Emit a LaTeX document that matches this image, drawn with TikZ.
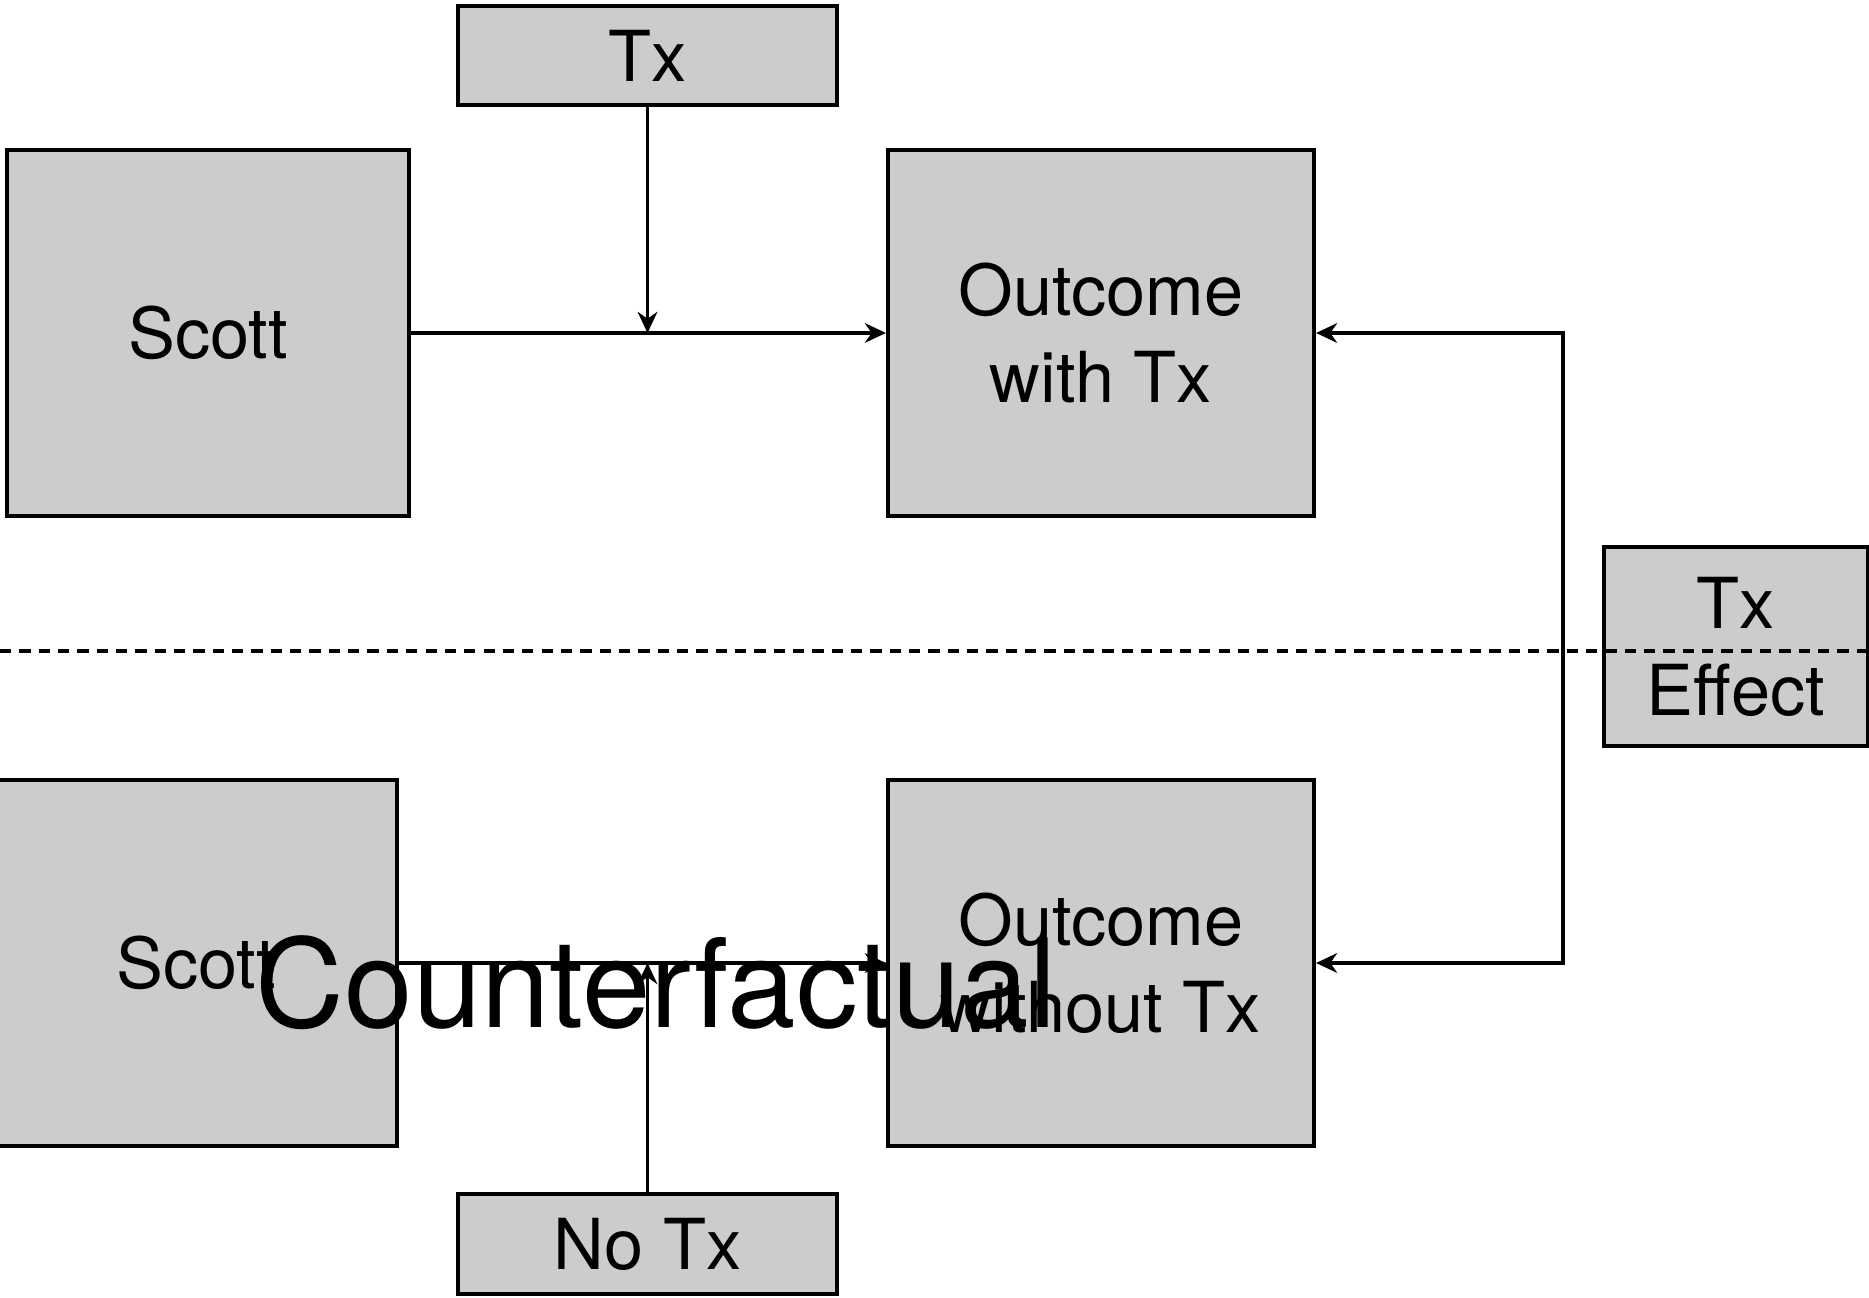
\documentclass[tikz,border=0pt]{standalone}
\usepackage{fontspec}
\setmainfont{TeX Gyre Heros}
\usetikzlibrary{arrows.meta}
\definecolor{boxfill}{HTML}{CCCCCC}
\tikzset{
  >={Stealth[length=6pt,width=5.6pt]},
  every node/.style={font=\fontsize{20}{24.7}\selectfont,text=black},
  box/.style={draw=black,line width=1.1pt,fill=boxfill,align=center,inner sep=0pt},
  arrow/.style={->,line width=0.9pt},
  divider/.style={line width=0.9pt,dash pattern=on 3.2pt off 2.3pt},
  bigtext/.style={font=\fontsize{35}{42}\selectfont},
}

\begin{document}
\begin{tikzpicture}[x=0.01cm,y=-0.01cm]
  \useasboundingbox (0,0) rectangle (1869,1298);

  % observed world
  \node[box,minimum width=3.79cm,minimum height=0.99cm] (tx) at (647.5,55.5) {Tx};
  \node[box,minimum width=4.02cm,minimum height=3.66cm] (scott) at (208,333) {Scott};
  \node[box,minimum width=4.26cm,minimum height=3.66cm] (withtx) at (1101,333) {Outcome\\with Tx};
  \draw[arrow] (scott.east) -- (withtx.west);
  \draw[arrow] (tx.south) -- (tx.south |- scott.east);

  % counterfactual world
  \node[box,minimum width=4.02cm,minimum height=3.66cm] (scottcf) at (196,963) {Scott};
  \node[box,minimum width=4.26cm,minimum height=3.66cm] (withouttx) at (1101,963) {Outcome\\without Tx};
  \node[box,minimum width=3.79cm,minimum height=1.00cm] (notx) at (647.5,1244) {No Tx};
  \draw[arrow] (scottcf.east) -- (withouttx.west);
  \draw[arrow] (notx.north) -- (notx.north |- scottcf.east);

  % effect
  \node[box,minimum width=2.64cm,minimum height=1.99cm] (effect) at (1736,646.5) {Tx\\Effect};
  \coordinate (rail) at (1563,650);
  \draw[arrow,<->] (withtx.east) -| (rail) |- (withouttx.east);

  \coordinate (divl) at (0,651);
  \coordinate (divr) at (1869,651);
  \draw[divider] (divl) -- (divr);

  \node[bigtext] (cf) at (656,983) {Counterfactual};
\end{tikzpicture}
\end{document}
